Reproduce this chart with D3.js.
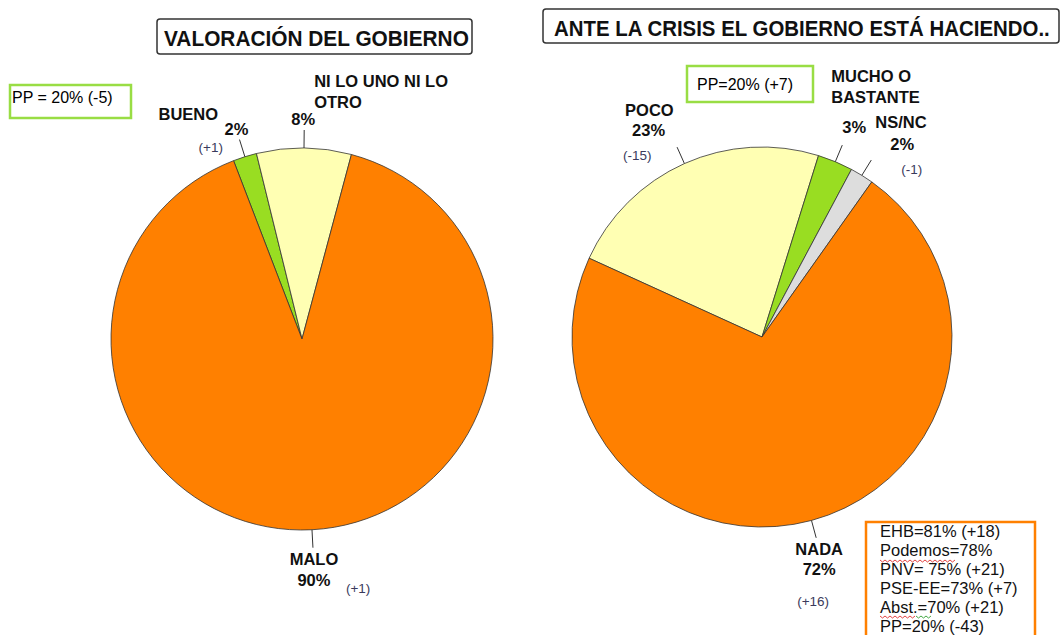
<!DOCTYPE html>
<html>
<head>
<meta charset="utf-8">
<script src="https://cdn.jsdelivr.net/npm/d3@7"></script>
<style>
  body { margin: 0; background: #fff; }
  text { font-family: "Liberation Sans", Arial, sans-serif; }
</style>
</head>
<body>
<div id="chart"></div>
<script>
// data
var valLabels = [["BUENO"], ["NI LO UNO NI LO", "OTRO"], ["MALO"]];
var valValues = [2, 8, 90];
var valDeltas = ["(+1)", "", "(+1)"];

var crisisLabels = [["POCO"], ["MUCHO O", "BASTANTE"], ["NS/NC"], ["NADA"]];
var crisisValues = [23, 3, 2, 72];
var crisisDeltas = ["(-15)", "", "(-1)", "(+16)"];

var partyLines = ["EHB=81% (+18)", "Podemos=78%", "PNV= 75% (+21)", "PSE-EE=73% (+7)", "Abst.=70% (+21)", "PP=20% (-43)"];

var colorsVal = ["#99dd22", "#ffffb3", "#ff8000"];
var colorsCrisis = ["#ffffb3", "#99dd22", "#dddddd", "#ff8000"];

var width = 1063, height = 635;

var svg = d3.select("#chart")
	.append("svg")
	.attr("width", width)
	.attr("height", height);

// title boxes (text squeezed horizontally to fit, like the narrow original font)
function titleBox(x, y, w, h, tx, ty, tw, label) {
	svg.append("rect")
		.attr("x", x).attr("y", y).attr("width", w).attr("height", h)
		.attr("rx", 3).attr("fill", "#fff")
		.attr("stroke", "#333").attr("stroke-width", 1.5);
	var g = svg.append("g");
	var t = g.append("text")
		.attr("x", 0).attr("y", 0)
		.attr("font-size", 22).attr("font-weight", "bold")
		.attr("fill", "#111")
		.text(label);
	var sx = tw / t.node().getComputedTextLength();
	g.attr("transform", "translate(" + tx + "," + ty + ") scale(" + sx + ",1)");
}
titleBox(157, 19, 315, 35, 164, 46, 305, "VALORACIÓN DEL GOBIERNO");
titleBox(543, 9, 516, 34, 554, 36, 496, "ANTE LA CRISIS EL GOBIERNO ESTÁ HACIENDO..");

// small note boxes
function noteBox(x, y, w, h, stroke, sw) {
	return svg.append("rect")
		.attr("x", x).attr("y", y).attr("width", w).attr("height", h)
		.attr("fill", "#fff").attr("stroke", stroke).attr("stroke-width", sw);
}
noteBox(10, 85, 121, 33, "#99dd44", 2.5);
svg.append("text").attr("x", 12).attr("y", 103).attr("font-size", 16).text("PP = 20% (-5)");
noteBox(687, 66, 126, 36, "#99dd44", 2.5);
svg.append("text").attr("x", 697).attr("y", 90).attr("font-size", 16).text("PP=20% (+7)");

// pie drawing
function drawPie(cx, cy, r, startDeg, values, colors, labels, deltas, layout) {
	var pie = d3.pie().sort(null)
		.startAngle(startDeg * Math.PI / 180)
		.endAngle(startDeg * Math.PI / 180 + 2 * Math.PI);
	var arc = d3.arc().innerRadius(0).outerRadius(r);
	var arcs = pie(values);
	var g = svg.append("g").attr("transform", "translate(" + cx + "," + cy + ")");

	g.selectAll("path.slice")
		.data(arcs)
		.join("path")
		.attr("class", "slice")
		.attr("d", arc)
		.attr("fill", (d, i) => colors[i])
		.attr("stroke", "#333")
		.attr("stroke-width", 0.8);

	arcs.forEach((d, i) => {
		var a = (d.startAngle + d.endAngle) / 2;
		var p0 = [Math.sin(a) * r, -Math.cos(a) * r];
		var p1 = [Math.sin(a) * (r + 18), -Math.cos(a) * (r + 18)];
		g.append("line")
			.attr("x1", p0[0]).attr("y1", p0[1])
			.attr("x2", p1[0]).attr("y2", p1[1])
			.attr("stroke", "#333").attr("stroke-width", 1);

		var L = layout[i];
		// category name
		labels[i].forEach((t, k) => {
			g.append("text")
				.attr("x", p1[0] + L.name[0]).attr("y", p1[1] + L.name[1] + k * 21)
				.attr("text-anchor", L.anchor)
				.attr("font-size", 16.5).attr("font-weight", "bold")
				.attr("fill", "#111")
				.text(t);
		});
		// percent
		g.append("text")
			.attr("x", p1[0] + L.pct[0]).attr("y", p1[1] + L.pct[1])
			.attr("text-anchor", L.anchor)
			.attr("font-size", 16.5).attr("font-weight", "bold")
			.attr("fill", "#111")
			.text(values[i] + "%");
		// change
		if (deltas[i]) {
			g.append("text")
				.attr("x", p1[0] + L.delta[0]).attr("y", p1[1] + L.delta[1])
				.attr("font-size", 13.5)
				.attr("fill", "#3a3a5c")
				.text(deltas[i]);
		}
	});
}

drawPie(302, 339, 191, -21, valValues, colorsVal, valLabels, valDeltas, [
	{ anchor: "start", name: [-81, -20], pct: [-15, -5], delta: [-41, 12] },
	{ anchor: "start", name: [10, -43], pct: [-13, -5], delta: [0, 0] },
	{ anchor: "middle", name: [1, 17], pct: [1, 38], delta: [33, 45] }
]);

drawPie(762, 337, 190, -65.5, crisisValues, colorsCrisis, crisisLabels, crisisDeltas, [
	{ anchor: "start", name: [-52, -31], pct: [-45, -11], delta: [-54, 13] },
	{ anchor: "start", name: [-11, -63], pct: [0, -12], delta: [0, 0] },
	{ anchor: "start", name: [4, -32], pct: [19, -10], delta: [30, 14] },
	{ anchor: "middle", name: [3, 17], pct: [3, 37], delta: [-19, 68] }
]);

// party box
noteBox(866, 522, 169, 130, "#ff8000", 2.5);
svg.selectAll("text.party")
	.data(partyLines)
	.join("text")
	.attr("class", "party")
	.attr("x", 880)
	.attr("y", (d, i) => 537 + i * 19)
	.attr("font-size", 16.5)
	.attr("fill", "#111")
	.text(d => d);

// spell-check squiggles
function squiggle(x0, x1, y, color) {
	var pts = [];
	for (var x = x0, k = 0; x <= x1; x += 2.5, k++) pts.push([x, y + (k % 2 ? 2 : 0)]);
	svg.append("path").attr("d", d3.line()(pts))
		.attr("fill", "none").attr("stroke", color).attr("stroke-width", 0.9);
}
squiggle(880, 957, 560, "#e03030");
squiggle(880, 915, 616, "#e03030");
squiggle(916, 931, 616, "#30a030");
</script>
</body>
</html>
